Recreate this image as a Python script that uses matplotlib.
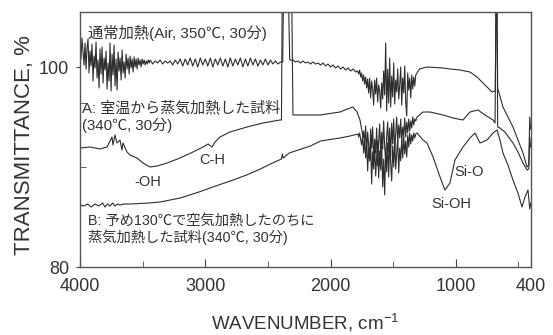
import matplotlib
matplotlib.use("Agg")
import matplotlib.pyplot as plt

plt.rcParams['mathtext.fontset'] = 'custom'
plt.rcParams['mathtext.rm'] = 'Liberation Sans'
plt.rcParams['mathtext.it'] = 'Liberation Sans'

# 通常加熱 (Air, 350℃, 30分)
air_wn = [4000, 3992, 3984, 3976, 3968, 3960, 3952, 3944, 3936, 3928, 3920, 3912,
          3904, 3896, 3888, 3880, 3872, 3864, 3856, 3848, 3840, 3832, 3824, 3816,
          3808, 3800, 3792, 3784, 3776, 3768, 3760, 3752, 3744, 3736, 3728, 3720,
          3712, 3704, 3696, 3688, 3680, 3672, 3664, 3656, 3648, 3640, 3632, 3624,
          3616, 3608, 3600, 3592, 3584, 3576, 3568, 3560, 3552, 3544, 3536, 3528,
          3520, 3512, 3504, 3496, 3488, 3480, 3472, 3464, 3456, 3448,
          3440, 3420, 3400, 3380, 3360, 3340, 3320, 3300, 3280, 3260, 3240, 3220,
          3200, 3180, 3160, 3140, 3120, 3100, 3080, 3060, 3040, 3020, 3000, 2980,
          2960, 2940, 2920, 2900, 2880, 2860, 2840, 2820, 2800, 2780, 2760, 2740,
          2720, 2700, 2680, 2660, 2640, 2620, 2600, 2580, 2560, 2540, 2520, 2500,
          2480, 2460, 2440, 2420, 2400, 2385,
          2382, 2376, 2336, 2326,
          2300, 2280, 2260, 2240, 2220, 2200, 2180, 2160, 2140, 2120, 2100, 2080,
          2060, 2040, 2020, 2000, 1980, 1960, 1940, 1920, 1900, 1880, 1860, 1840,
          1820, 1800, 1790,
          1784, 1776, 1768, 1760, 1752, 1744, 1736, 1728, 1720, 1712, 1704, 1696,
          1688, 1680, 1672, 1664, 1656, 1648, 1640, 1632, 1624, 1616, 1608, 1600,
          1592, 1584, 1576, 1568, 1560, 1552, 1544, 1536, 1528, 1520, 1512, 1504,
          1496, 1488, 1480, 1472, 1464, 1456, 1448, 1440, 1432, 1424, 1416, 1408,
          1400, 1392, 1384, 1376, 1368, 1360, 1352, 1344, 1336, 1328, 1320,
          1305, 1290, 1230, 1102, 1047, 967, 887, 831, 783, 711, 685,
          679, 672, 666, 624, 544, 464, 432, 418, 410, 403]
air_t = [102.6, 100.8, 102.9, 101.5, 100.2, 102.4, 99.8, 101.9, 102.8, 99.4, 101.6, 100.1,
         102.3, 98.6, 101.1, 99.9, 102.5, 98.9, 100.7, 97.9, 101.8, 99.3, 102.0, 98.4,
         100.9, 99.7, 101.6, 97.8, 100.4, 98.6, 102.4, 97.6, 101.3, 99.2, 102.2, 98.1,
         100.8, 97.7, 101.5, 99.6, 100.9, 98.7, 101.7, 99.4, 100.5, 98.9, 101.3, 99.8,
         100.9, 99.3, 101.1, 99.9, 100.8, 99.5, 101.0, 100.0, 100.8, 99.8, 100.9, 100.2,
         100.7, 100.0, 100.8, 100.3, 100.7, 100.2, 100.6, 100.3, 100.7, 100.4,
         100.7, 100.3, 100.6, 100.4, 100.7, 100.3, 100.6, 100.4, 100.6, 100.2, 100.7, 100.3,
         100.8, 100.1, 100.8, 100.2, 100.9, 100.1, 100.8, 100.0, 100.9, 100.2, 100.8, 100.1,
         100.9, 100.0, 100.8, 100.2, 100.9, 100.1, 100.8, 100.0, 100.9, 100.1, 100.8, 100.2,
         100.9, 100.0, 100.8, 100.1, 100.9, 100.2, 100.8, 100.1, 100.7, 100.2, 100.8, 100.2,
         100.7, 100.3, 100.6, 100.3, 100.5, 100.5,
         100.5, 107.0, 107.0, 100.7,
         100.7, 100.5, 100.6, 100.4, 100.6, 100.4, 100.5, 100.3, 100.5, 100.3, 100.4, 100.2,
         100.4, 100.1, 100.3, 100.0, 100.2, 99.9, 100.1, 99.8, 100.0, 99.7, 99.9, 99.6,
         99.8, 99.5, 99.6,
         99.6, 99.3, 99.7, 99.0, 99.4, 98.6, 99.2, 98.3, 99.0, 97.9, 98.8, 97.4,
         98.9, 96.9, 98.6, 97.8, 96.2, 98.7, 97.3, 98.9, 96.5, 98.2, 97.6, 95.9,
         98.4, 96.8, 99.6, 97.2, 102.4, 95.6, 99.8, 96.4, 100.9, 96.0, 99.1, 97.0,
         100.4, 96.3, 98.7, 97.5, 99.8, 96.8, 98.2, 100.0, 96.2, 98.9, 97.4, 100.1,
         96.5, 95.1, 99.4, 97.7, 98.9, 96.9, 99.2, 97.8, 99.0, 98.1, 99.2,
         99.5, 99.8, 100.0, 99.9, 99.8, 99.7, 99.5, 99.0, 98.4, 97.5, 97.6,
         107.0, 107.0, 97.9, 96.0, 94.0, 91.4, 90.0, 90.2, 95.0, 93.8]

# A: 室温から蒸気加熱した試料
a_wn = [4000, 3920, 3840, 3784, 3745, 3737, 3721, 3705, 3681, 3665, 3657, 3625,
        3601, 3545, 3497, 3441, 3385, 3305, 3202, 3098, 3018, 2978, 2946, 2922,
        2883, 2803, 2667, 2539, 2404, 2392, 2386, 2310, 2300, 2084, 1925, 1845,
        1821, 1789, 1765, 1741,
        1736, 1728, 1720, 1712, 1704, 1696, 1688, 1680, 1672, 1664, 1656, 1648,
        1640, 1632, 1624, 1616, 1608, 1600, 1592, 1584, 1576, 1568, 1560, 1552,
        1544, 1536, 1528, 1520, 1512, 1504, 1496, 1488, 1480, 1472, 1464, 1456,
        1448, 1440, 1432, 1424, 1416, 1408, 1400, 1392, 1384, 1376, 1368, 1360,
        1352, 1344, 1336, 1328, 1320, 1310,
        1262, 1206, 1102, 1023, 943, 887, 823, 767, 703, 687, 679, 672, 666,
        648, 608, 544, 504, 464, 432, 418, 410, 403]
a_t = [91.9, 92.0, 91.8, 92.0, 93.0, 92.2, 93.2, 92.4, 92.7, 91.7, 92.4, 91.5,
       91.2, 90.9, 90.4, 90.0, 90.1, 90.4, 90.9, 91.5, 92.0, 92.3, 92.0, 92.5,
       93.0, 93.5, 94.0, 94.4, 94.7, 94.7, 107.0, 107.0, 95.2, 95.2, 95.5, 95.9,
       96.0, 95.5, 94.7, 93.0,
       93.6, 92.4, 94.1, 91.5, 93.5, 92.2, 90.8, 93.8, 91.9, 94.0, 90.5, 92.8,
       91.4, 93.9, 90.1, 92.6, 94.3, 91.2, 93.5, 91.8, 94.6, 92.0, 90.6, 93.1,
       94.5, 91.5, 93.9, 91.1, 94.4, 92.3, 94.8, 91.6, 93.4, 95.0, 92.4, 94.2,
       92.9, 94.8, 92.5, 94.0, 93.1, 94.9, 93.0, 94.5, 93.4, 94.8, 93.6, 94.6,
       93.9, 95.0, 94.2, 94.8, 94.6, 95.0,
       95.5, 95.5, 95.2, 94.9, 94.7, 95.5, 95.7, 95.2, 94.7, 94.4, 107.0, 107.0, 94.0,
       93.9, 93.5, 92.4, 91.5, 90.4, 89.7, 89.8, 93.0, 92.0]

# B: 予め130℃で空気加熱したのちに蒸気加熱した試料
b_wn = [4000, 3970, 3940, 3910, 3880, 3850, 3820, 3800, 3780, 3760, 3740, 3720,
        3700, 3680, 3650, 3600, 3450, 3360, 3200, 3050, 2940, 2800, 2670, 2560,
        2480, 2410, 2392, 2385, 2378, 2330, 2160, 2080, 1925, 1845, 1781,
        1776, 1768, 1760, 1752, 1744, 1736, 1728, 1720, 1712, 1704, 1696, 1688,
        1680, 1672, 1664, 1656, 1648, 1640, 1632, 1624, 1616, 1608, 1600, 1592,
        1584, 1576, 1568, 1560, 1552, 1544, 1536, 1528, 1520, 1512, 1504, 1496,
        1488, 1480, 1472, 1464, 1456, 1448, 1440, 1432, 1424, 1416, 1408, 1400,
        1392, 1384, 1376, 1368, 1360, 1352, 1344, 1336, 1328, 1320, 1310,
        1262, 1230, 1182, 1126, 1087, 1047, 1007, 943, 887, 847, 807, 751, 703,
        671, 648, 624, 584, 544, 504, 472, 448, 424, 410, 402]
b_t = [86.2, 86.1, 86.3, 86.0, 86.3, 86.1, 86.4, 86.0, 86.3, 86.1, 86.4, 86.1,
       86.3, 86.2, 86.3, 86.3, 86.4, 86.5, 86.9, 87.5, 88.0, 88.6, 89.2, 89.8,
       90.3, 90.7, 90.8, 91.3, 90.9, 91.4, 92.1, 92.6, 92.9, 93.1, 93.3,
       93.0, 93.4, 92.8, 92.2, 93.1, 91.4, 92.8, 90.9, 92.5, 89.6, 91.9, 90.6,
       92.4, 88.3, 91.5, 89.8, 92.3, 89.1, 91.0, 92.6, 88.9, 91.6, 89.7, 92.1,
       88.0, 90.8, 87.2, 91.9, 89.5, 92.4, 89.0, 92.6, 90.3, 88.6, 92.1, 90.0,
       92.7, 89.8, 91.4, 92.9, 89.4, 91.9, 90.6, 92.8, 90.9, 93.1, 91.3, 92.6,
       91.0, 93.2, 92.0, 93.4, 92.3, 93.2, 92.6, 93.4, 92.9, 93.3, 93.4,
       92.7, 92.4, 91.0, 89.0, 87.7, 88.4, 90.7, 92.0, 92.9, 93.4, 92.4, 92.7, 93.4,
       93.7, 92.7, 91.4, 90.2, 88.7, 87.4, 86.0, 87.0, 87.7, 85.8, 86.4]

x_major = [4000, 3000, 2000, 1000, 400]
x_minor = [3500, 2500, 1500, 500]
y_major = [80, 100]
y_minor = [90, 96.4]

LATIN = ['Liberation Sans', 'DejaVu Sans']
JP = ['Liberation Sans', 'Noto Sans CJK JP']
ink = '#2e2e2e'
txt = '#333333'

fig = plt.figure(figsize=(5.53, 3.35), dpi=100)
ax = fig.add_axes([80 / 553, 1 - 267 / 335, 451 / 553, 255 / 335])

for wn, t in [(air_wn, air_t), (a_wn, a_t), (b_wn, b_t)]:
    ax.plot(wn, t, color=ink, lw=0.8)

ax.set_xlim(4000, 400)
ax.set_ylim(80, 105.5)

ax.set_xticks(x_major)
ax.set_xticks(x_minor, minor=True)
ax.set_yticks(y_major)
ax.set_yticks(y_minor, minor=True)
ax.tick_params(axis='x', which='major', direction='in', length=6, pad=8,
               labelsize=13, colors='#444', labelcolor=txt)
ax.tick_params(axis='x', which='minor', direction='in', length=4, colors='#444')
ax.tick_params(axis='y', which='major', direction='out', length=3, pad=5,
               labelsize=13, colors='#444', labelcolor=txt)
ax.tick_params(axis='y', which='minor', direction='in', length=4, colors='#444')
for lab in ax.get_xticklabels() + ax.get_yticklabels():
    lab.set_family(LATIN)

for s in ax.spines.values():
    s.set_color('#555')
    s.set_linewidth(1.0)

ax.set_xlabel('WAVENUMBER, cm$^{-1}$', fontsize=13.5, family=LATIN, color=txt)
ax.xaxis.set_label_coords(0.5, -0.175)
ax.set_ylabel('TRANSMITTANCE, %', fontsize=16, family=LATIN, color=txt)
ax.yaxis.set_label_coords(-0.10, 0.48)

ax.text(3936, 103.4, '通常加熱(Air, 350℃, 30分)', fontsize=11, family=JP,
        color=txt, va='center')
ax.text(3984, 95.85, 'A: 室温から蒸気加熱した試料', fontsize=10.8, family=JP,
        color=txt, va='center')
ax.text(3984, 94.2, '(340℃, 30分)', fontsize=10.8, family=JP, color=txt, va='center')
ax.text(3936, 84.6, 'B: 予め130℃で空気加熱したのちに', fontsize=10.3, family=JP,
        color=txt, va='center')
ax.text(3936, 83.0, '蒸気加熱した試料(340℃, 30分)', fontsize=10.3, family=JP,
        color=txt, va='center')
ax.text(2946, 90.7, 'C-H', fontsize=10.5, family=LATIN, color=txt, ha='center', va='center')
ax.text(3457, 88.5, '-OH', fontsize=10.5, family=LATIN, color=txt, ha='center', va='center')
ax.text(895, 89.5, 'Si-O', fontsize=10.5, family=LATIN, color=txt, ha='center', va='center')
ax.text(1039, 86.3, 'Si-OH', fontsize=10.5, family=LATIN, color=txt, ha='center', va='center')

fig.savefig('out.png', dpi=100)
